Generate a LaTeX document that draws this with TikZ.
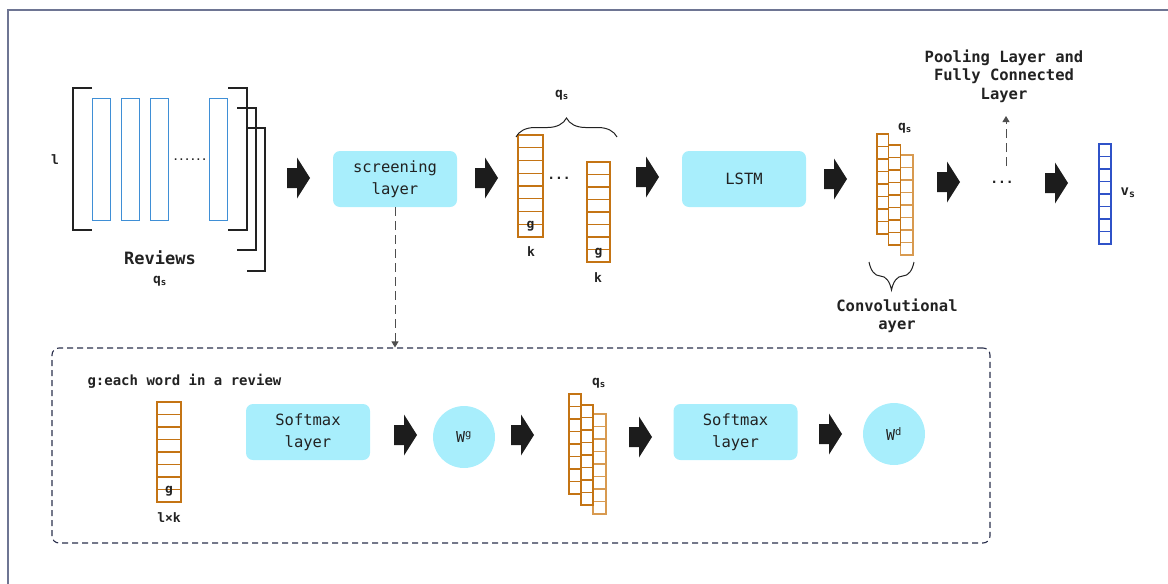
\documentclass[tikz,border=0pt]{standalone}
\usepackage{fontspec}
\setmonofont{DejaVu Sans Mono}
\usetikzlibrary{arrows.meta,decorations.pathreplacing}
\definecolor{cyanbox}{HTML}{A8EEFC}
\definecolor{orangev}{HTML}{C47414}
\definecolor{orangel}{HTML}{D89A50}
\definecolor{bluev}{HTML}{3F8FD6}
\definecolor{bluevs}{HTML}{2F52C8}
\definecolor{framec}{HTML}{6E7593}
\definecolor{dashc}{HTML}{2A2F4C}
\definecolor{arrowc}{HTML}{1C1C1C}
\definecolor{txt}{HTML}{222222}
\newcommand{\wvec}[6]{%
  \foreach \i in {1,...,#4}{\draw[#6, line width=1.3pt] (#1,{#2+(\i-1)*#5}) rectangle ++(#3,#5);}}
\tikzset{
  box/.style={fill=cyanbox, rounded corners=7pt, minimum width=124pt, minimum height=56pt,
    font=\ttfamily\fontsize{15.5}{21.5}\selectfont, align=center, text=txt},
  circ/.style={circle, fill=cyanbox, minimum size=62pt, inner sep=0pt,
    font=\ttfamily\fontsize{15}{17}\selectfont, text=txt},
  lab/.style={font=\ttfamily\bfseries\fontsize{15.5}{18.5}\selectfont, align=center, text=txt},
  small/.style={font=\ttfamily\bfseries\fontsize{13}{15}\selectfont, text=txt},
  blockarrow/.pic={\fill[arrowc] (0,-10) -- (10,-10) -- (10,-20.5) -- (23,0) -- (10,20.5) -- (10,10) -- (0,10) -- cycle;},
  brk/.style={draw=txt, line width=1.2pt},
  dconn/.style={draw=txt!80, line width=1pt, dash pattern=on 9pt off 5pt, -{Triangle[length=6pt,width=7pt]}}
}
\begin{document}
\begin{tikzpicture}[x=1pt,y=-1pt]
\useasboundingbox (0,0) rectangle (1168,584);
% frame
\draw[framec, line width=1.3pt] (8,590) -- (8,10) -- (1175,10);

% reviews group
\draw[brk] (92,88) -- (73,88) -- (73,230) -- (92,230);
\draw[brk] (228,88) -- (247,88) -- (247,230) -- (228,230);
\draw[brk] (237,108) -- (256,108) -- (256,250) -- (237,250);
\draw[brk] (247,128) -- (265,128) -- (265,271) -- (247,271);
\foreach \x/\n in {92/r1,121/r2,150/r3,209/r4}{
  \node[draw=bluev, line width=1.2pt, minimum width=18pt, minimum height=122pt, inner sep=0pt, anchor=north west] (\n) at (\x,98) {};}
\node[small, font=\ttfamily\bfseries\fontsize{9.5}{11}\selectfont] (rdots) at (190,160) {......};
\node[small] (ldim) at (55,160) {l};
\node[lab, font=\ttfamily\bfseries\fontsize{17}{20}\selectfont] (rev) at (160,258) {Reviews};
\node[small] (qs1) at (160,281) {q\textsubscript{s}};

% block arrows
\foreach \x/\y in {287/178,475/178,636/177,824/179,937/182,1045/183,394/435,511/435,629/437,819/434}{
  \pic at (\x,\y) {blockarrow};}

% screening layer
\node[box] (screen) at (395,179) {screening\\layer};

% word vectors
\wvec{518}{135}{25}{8}{12.75}{orangev}
\wvec{587}{162}{23}{8}{12.5}{orangev}
\node[small] (g1) at (530.5,226) {g};
\node[small] (k1) at (531,252) {k};
\node[small] (g2) at (598.5,253) {g};
\node[small] (k2) at (598,278) {k};
\node[small] (vdots1) at (559,178) {...};
\draw[txt, line width=1pt, decorate, decoration={brace, amplitude=19pt}] (516,137) -- (617,137);
\node[small] (qs2) at (562,95) {q\textsubscript{s}};

% LSTM
\node[box] (lstm) at (744,179) {LSTM};

% conv stack
\wvec{900.5}{155}{12.5}{8}{12.5}{orangel}
\wvec{888.5}{145}{12}{8}{12.5}{orangev}
\wvec{877}{134}{11.5}{8}{12.5}{orangev}
\node[small] (qs3) at (905,128) {q\textsubscript{s}};
\draw[txt, line width=1pt, decorate, decoration={brace, amplitude=28pt}] (914,262) -- (869,262);
\node[lab] (conv) at (897,316) {Convolutional\\ayer};

% pooling
\node[small] (pdots) at (1002,182) {...};
\coordinate (pstart) at (1006,166);
\node[lab] (pool) at (1004,76) {Pooling Layer and\\Fully Connected\\Layer};
\draw[dconn] (pstart) -- (1006,116);

% v_s
\wvec{1099}{144}{12}{8}{12.5}{bluevs}
\node[small, font=\ttfamily\bfseries\fontsize{14}{16}\selectfont] (vs) at (1128,193) {v\textsubscript{s}};

% bottom dashed box
\node[draw=dashc, line width=1.1pt, dash pattern=on 6pt off 4pt, rounded corners=7pt,
  minimum width=938pt, minimum height=195pt, inner sep=0pt] (dbox) at (521,445.5) {};
\draw[dconn] (screen.south) -- (screen.south |- dbox.north);

\node[small, font=\ttfamily\bfseries\fontsize{14}{16}\selectfont, anchor=west] (gw) at (84,381) {g:each word in a review};
\wvec{157}{402}{24}{8}{12.5}{orangev}
\node[small] (g3) at (169,491) {g};
\node[small] (lk) at (169,518) {l×k};

\node[box] (soft1) at (308,432) {Softmax\\layer};
\node[circ] (wg) at (464,437) {W\textsuperscript{g}};

\wvec{593}{414}{13}{8}{12.5}{orangel}
\wvec{581}{405}{12}{8}{12.5}{orangev}
\wvec{569}{394}{12}{8}{12.5}{orangev}
\node[small] (qs4) at (599,383) {q\textsubscript{s}};

\node[box] (soft2) at (735.5,432) {Softmax\\layer};
\node[circ] (wd) at (894,434) {W\textsuperscript{d}};
\end{tikzpicture}
\end{document}
